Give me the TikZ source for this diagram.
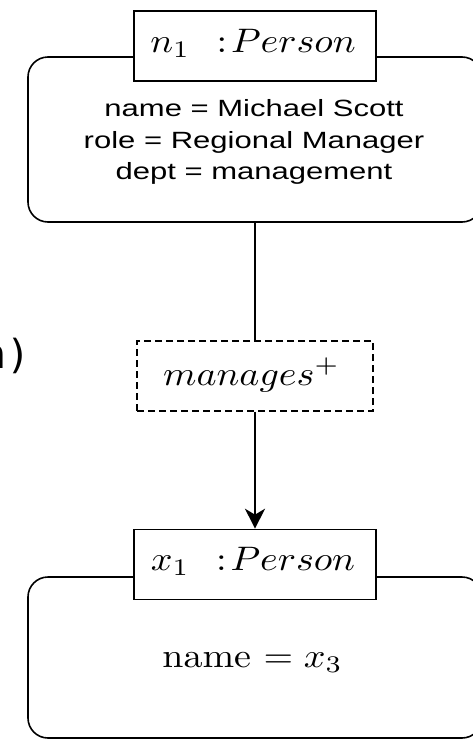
\documentclass[tikz,border=0pt]{standalone}
\usepackage{fontspec}
\usepackage{graphicx}
\setmainfont{Latin Modern Roman}
\newfontfamily\attrfont{Liberation Sans}
\newfontfamily\codefont{DejaVu Sans Mono}
\usetikzlibrary{arrows.meta}
\newcommand{\hs}[1]{\scalebox{1.32}[1]{#1}}
\newcommand{\ms}[1]{\scalebox{3.8}[3.4]{#1}}
\tikzset{
  line/.style={line width=1.6pt, draw=black},
  rbox/.style={line, rounded corners=20pt, inner sep=0pt},
  lbox/.style={line, fill=white, inner sep=0pt, minimum width=242pt, minimum height=70pt},
  dbox/.style={line, dash pattern=on 7pt off 4pt, fill=white, inner sep=0pt, minimum width=236pt, minimum height=70pt},
  attr/.style={align=center, inner sep=0pt, font=\attrfont\fontsize{23.5}{31.5}\selectfont},
  mtext/.style={inner sep=0pt, anchor=base},
  conn/.style={line width=1.6pt},
  arr/.style={conn, -{Stealth[length=20pt, width=20pt, inset=6pt]}}
}
\begin{document}
\begin{tikzpicture}[x=1pt, y=-1pt]
  \useasboundingbox (0,0) rectangle (472,739);
  % top person
  \draw[rbox] (28,57) rectangle (482,222);
  \coordinate (p1bot) at (255,222);
  \node[lbox] (l1) at (255,46) {};
  \node[mtext] (l1t) at (253,52) {\ms{$n_1\hspace{7pt}{:}\hspace{1pt}Person$}};
  \node[attr] (a1) at (254,142) {\hs{name = Michael Scott}\\\hs{role = Regional Manager}\\\hs{dept = management}};
  % relation
  \node[dbox] (rel) at (255,376) {};
  \node[mtext] (relt) at (251.5,385) {\ms{$manages^{+}$}};
  % bottom person
  \draw[rbox] (28,577) rectangle (482,738);
  \node[lbox] (l2) at (255,564.5) {};
  \node[mtext] (l2t) at (253,570) {\ms{$x_1\hspace{7pt}{:}\hspace{1pt}Person$}};
  \node[mtext] (a2) at (252.5,667) {\ms{name $= x_3$}};
  % fragment on the left
  \node[anchor=east, inner sep=0pt, font=\codefont\fontsize{40}{40}\selectfont] (frag) at (31,356) {n)};
  % connectors
  \draw[conn] (p1bot) -- (rel.north);
  \draw[arr] (rel.south) -- (l2.north);
\end{tikzpicture}
\end{document}
